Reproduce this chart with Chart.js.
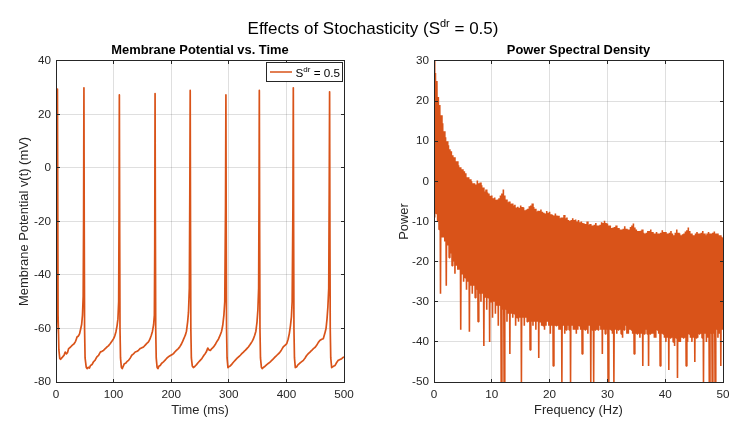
<!DOCTYPE html>
<html>
<head>
<meta charset="utf-8">
<title>Effects of Stochasticity</title>
<script src="https://cdn.jsdelivr.net/npm/chart.js@4.4.0/dist/chart.umd.min.js"></script>
<style>
  body { margin: 0; background: #fff; }
  #wrap { position: relative; width: 746px; height: 434px; overflow: hidden;
          font-family: "Liberation Sans", Arial, Helvetica, sans-serif; }
  #suptitle { position: absolute; left: 0; top: 20px; width: 746px; text-align: center;
              font-size: 17px; line-height: 17px; color: #000; white-space: nowrap; }
  #suptitle sup { font-size: 11px; position: relative; top: -7px; vertical-align: baseline; line-height: 0; }
  canvas { position: absolute; top: 0; }
</style>
</head>
<body>
<div id="wrap">
  <canvas id="voltChart" width="373" height="434" style="left:0;width:373px;height:434px"></canvas>
  <canvas id="psdChart" width="373" height="434" style="left:373px;width:373px;height:434px"></canvas>
  <div id="suptitle">Effects of Stochasticity (S<sup>dr</sup> = 0.5)</div>
</div>
<script>
// ---- data ----

// membrane potential trace, one line per spike cycle
const timeMs = [
  0, 1.2, 2, 2.5, 3.0, 3.6, 5, 6.5, 8, 10, 12, 14, 16, 18, 20, 22, 25, 28, 31, 34, 36.5, 39, 41, 43, 44.5, 46, 47.2, 47.9,
  48.5, 49.0, 49.6, 50.5, 52.5, 54, 56, 58, 60, 62.5, 65, 68, 71, 74, 77, 80, 82.5, 85.5, 88.5, 91, 94, 97, 100, 102, 104, 106, 107.5, 108.8, 109.4,
  110, 110.5, 111.1, 112, 113.5, 115, 117, 118.5, 121, 123.5, 126, 129, 131.5, 134.5, 137.5, 140, 143, 146, 149, 152, 155, 158, 160.5, 163, 165.5, 167.5, 169.5, 170.8, 171.4,
  172, 172.5, 173.1, 174, 175.5, 177, 179, 181, 183.5, 186.5, 189.5, 192, 195, 198, 201, 204, 207, 210, 212.5, 215, 218, 220.5, 222.5, 224.5, 226.5, 228.5, 230, 231.5, 232.3,
  233, 233.5, 234.1, 235, 236.6, 238.5, 241, 244, 247, 250, 253, 256, 259, 261.5, 263.5, 265.5, 268, 270.5, 273.5, 276.5, 279, 282, 285, 287.5, 289.5, 291.5, 293, 294.3,
  295, 295.5, 296.1, 297, 298.5, 300.5, 302.5, 305, 308, 311, 314, 317, 320, 322.5, 325.5, 328.5, 331, 334, 337, 340, 342.5, 345, 347, 349, 350.5, 351.8, 352.5,
  353, 353.5, 354.1, 355, 356.6, 358, 360.5, 363, 366, 369, 372, 375, 378, 380.5, 383.5, 386.5, 389, 391.5, 394.5, 397.5, 400.5, 403, 405, 407, 408.7, 410, 411.3,
  412, 412.5, 413.1, 414, 415.5, 417.5, 420, 423, 426, 429.5, 432.5, 435.5, 438, 441, 444, 447, 450, 452.5, 455.5, 458.5, 461.5, 464, 466.5, 468.8, 470.5, 472, 473.5, 474.3,
  475, 475.5, 476.1, 477, 478.6, 480.5, 482.5, 484.5, 487, 490, 493, 496, 498, 500
];
const membraneMv = [
  -64.5, -55, -10, 29.5, -10, -55, -68, -71.2, -71.5, -71, -70.5, -70, -68.8, -69.5, -69, -67.5, -67, -66.3, -65.8, -64.8, -63.2, -62.8, -61.9, -60, -58.5, -55, -48, -20,
  30, -20, -60, -71, -74.5, -75, -74.5, -74.8, -73.8, -73.5, -72.5, -71.8, -70.6, -70, -68.8, -68.5, -68.2, -67.5, -66.9, -66.5, -65.7, -64.8, -63.8, -62.8, -61.3, -59, -56.5, -50, -20,
  27.3, -20, -60, -71, -74.5, -75, -74, -73.2, -73, -72.3, -71.9, -71, -70, -69.5, -68.8, -68.6, -68.2, -67.5, -67.2, -66.9, -66.2, -65.5, -65, -64, -62.5, -61, -58.5, -55, -30,
  27.8, -20, -60, -71, -74.5, -75, -74, -73.8, -73, -72.5, -71.8, -71.2, -70.6, -70.2, -69.8, -69.4, -68.6, -68, -67.5, -66.8, -65.7, -64.5, -63.5, -62.5, -61, -57.6, -54, -45, -10,
  29, -20, -60, -71, -74, -74.6, -74.2, -73.5, -72.7, -72, -71.3, -70.3, -69.4, -68.5, -67.3, -68, -68.2, -67.5, -66.9, -66, -65, -64, -62.5, -61, -58.8, -55, -50, -15,
  27.3, -20, -60, -71, -74.6, -74.2, -74, -73.4, -72.6, -71.9, -71.2, -70.6, -70, -69.4, -68.8, -68.2, -67.6, -66.9, -66, -65, -64, -62.5, -61, -57.5, -53, -45, -10,
  29, -20, -60, -71, -74.5, -75, -74.5, -74.1, -73.5, -73, -72.5, -71.8, -71.2, -70.6, -70, -69.4, -68.8, -68, -66.9, -66.3, -65.7, -64, -62, -59, -55.7, -50, -15,
  30, -20, -60, -71, -74.6, -74.4, -73.6, -73, -72.5, -71.9, -71, -70, -69.4, -68.8, -68.2, -67.5, -67, -66.3, -65.2, -64.4, -64, -63.8, -62, -60, -56.5, -52, -45, -10,
  28.5, -20, -60, -71, -74.6, -74.3, -74, -73.8, -72.8, -71.9, -71.6, -71.3, -70.9, -70.6
];

// PSD, read in 0.5 Hz blocks; each block holds four samples at +0, +0.125, +0.25, +0.375 Hz
const PSD_BLOCK_HZ = 0.5;
// main peak at the start of each block (0 .. 50 Hz)
const psdPeakPower = [
  30, 25, 19, 14.5, 11, 9, 7.5, 6, 5, 3.5,
  3, 2, 1, 0, -0.5, 0.2, -0.3, -1.5, -2, -3,
  -3.5, -4, -4.5, -3.5, -2, -4.5, -5, -5.5, -5.8, -6.3,
  -6, -6.5, -7, -6.2, -5.5, -6.8, -7.3, -7, -7.8, -7.4,
  -7.6, -8.4, -8, -8.6, -9, -8.4, -9, -9.8, -9.2, -9.5,
  -9.6, -10, -10.5, -10, -10.6, -11, -10.4, -11, -10.2, -9.8,
  -10.5, -11, -11.5, -11, -11.6, -12, -11.2, -12, -11.4, -10.5,
  -12, -12.4, -12, -13, -12.4, -12, -13, -12.6, -13, -12.2,
  -12.6, -13, -12.4, -13.4, -12, -13, -13.2, -12.5, -11.5, -13,
  -13.4, -12.6, -13, -12.4, -13.4, -12.6, -13, -12.5, -13, -13.4,
  -14
];
// deep dips (the teeth hanging below the band)
const psdDeepDipPower = [
  -9, -10, -28, -14, -26, -19, -21, -23, -22, -37,
  -25, -27, -37.5, -28, -29, -35, -30, -41, -32, -40,
  -34, -33, -36, -50, -50, -35, -43, -34, -36, -35,
  -50, -36, -35, -42, -36, -37, -44, -36, -37, -35,
  -38, -46, -36, -37, -50, -38, -36, -50, -37, -38,
  -36, -43, -37, -38, -50, -50, -37, -36, -43, -38,
  -50, -37, -50, -38, -37, -39, -36, -38, -37, -43,
  -38, -39, -46, -37, -46, -38, -39, -37, -46, -38,
  -40, -47, -39, -41, -49, -40, -39, -46, -38, -40,
  -45, -39, -38, -50, -40, -50, -50, -50, -39, -46
];
// secondary peaks in the middle of each block
const psdSecondPeakPower = [
  27, 21, 16.5, 12.5, 10, 8, 6.5, 5, 4, 3,
  2.5, 1, 0.5, -0.5, -0.8, -0.5, -1, -2.5, -2.8, -3.6,
  -4.2, -4.6, -4.2, -3, -3.5, -5.2, -5.6, -6, -6.5, -6.6,
  -6.4, -7.2, -6.8, -6, -6.4, -7.5, -7.4, -7.6, -8, -7.8,
  -8.2, -8.5, -8.5, -9.2, -9, -9.2, -9.6, -9.6, -9.6, -10,
  -10.2, -10.4, -10.6, -10.8, -11, -10.8, -11, -10.8, -10.4, -10.4,
  -11, -11.6, -11.4, -11.6, -12, -11.8, -11.8, -12, -11, -11.5,
  -12.4, -12.3, -12.8, -12.8, -12.4, -12.6, -13, -13, -12.8, -12.6,
  -13, -12.8, -13, -12.8, -12.8, -13.4, -13, -12.2, -12.4, -13.4,
  -13, -13, -12.8, -13, -13, -13, -12.8, -13, -13.4, -13.8
];
// shallow dips: the lower edge of the solid band
const psdShallowDipPower = [
  -8, -12, -14, -15, -16, -18, -20, -21, -22, -23,
  -24, -25, -26, -26, -27, -28, -28, -29, -29, -30,
  -30, -31, -31, -32, -32, -33, -33, -33, -34, -34,
  -34, -34, -35, -35, -35, -35, -35, -36, -36, -36,
  -36, -36, -36, -37, -36, -37, -37, -36, -37, -37,
  -37, -37, -37, -36, -37, -37, -37, -37, -37, -37,
  -37, -38, -37, -37, -38, -37, -38, -37, -38, -38,
  -38, -38, -38, -38, -38, -38, -39, -38, -38, -39,
  -39, -39, -40, -39, -40, -39, -39, -40, -39, -39,
  -39, -38, -39, -38, -39, -38, -38, -37, -38, -37
];

// axis ticks
const timeTicks = [0, 100, 200, 300, 400, 500];
const voltTicks = [-80, -60, -40, -20, 0, 20, 40];
const freqTicks = [0, 10, 20, 30, 40, 50];
const powerTicks = [-50, -40, -30, -20, -10, 0, 10, 20, 30];

// texts
const voltTitle = 'Membrane Potential vs. Time';
const psdTitle = 'Power Spectral Density';
const legendLabel = ['S', 'dr', ' = 0.5'];

// ---- styling ----
const FONT = '"Liberation Sans", Arial, Helvetica, sans-serif';
const LINE_COLOR = '#D95319';
const AXIS_COLOR = '#262626';
const GRID_COLOR = 'rgba(38,38,38,0.15)';
const TICK_SIZE = 11.7;
const LABEL_SIZE = 12.9;

Chart.defaults.font.family = FONT;
Chart.defaults.color = AXIS_COLOR;
Chart.defaults.animation = false;

function fixedTicks(values) {
  return function(scale) {
    scale.ticks = values.map(v => ({ value: v }));
  };
}

function half(p) {
  return Math.round(p - 0.5) + 0.5;
}

// box round the axes plus inward tick marks on all four sides
const axesFrame = {
  id: 'axesFrame',
  afterDatasetsDraw(chart) {
    const { ctx, chartArea: a, scales } = chart;
    const L = half(a.left), R = half(a.right), T = half(a.top), B = half(a.bottom);
    const len = 3.5;
    ctx.save();
    ctx.strokeStyle = AXIS_COLOR;
    ctx.lineWidth = 1;
    ctx.beginPath();
    scales.x.ticks.forEach(t => {
      const px = half(scales.x.getPixelForValue(t.value));
      ctx.moveTo(px, B); ctx.lineTo(px, B - len);
      ctx.moveTo(px, T); ctx.lineTo(px, T + len);
    });
    scales.y.ticks.forEach(t => {
      const py = half(scales.y.getPixelForValue(t.value));
      ctx.moveTo(L, py); ctx.lineTo(L + len, py);
      ctx.moveTo(R, py); ctx.lineTo(R - len, py);
    });
    ctx.stroke();
    ctx.strokeRect(L, T, R - L, B - T);
    ctx.restore();
  }
};

// legend with a superscript, like the MATLAB one
const supLegend = {
  id: 'supLegend',
  afterDraw(chart) {
    if (!chart.options.plugins.supLegend || !chart.options.plugins.supLegend.show) return;
    const { ctx, chartArea: a } = chart;
    const mainFont = TICK_SIZE + 'px ' + FONT;
    const supFont = '8px ' + FONT;
    ctx.save();
    ctx.font = mainFont;
    const wS = ctx.measureText(legendLabel[0]).width;
    const wRest = ctx.measureText(legendLabel[2]).width;
    ctx.font = supFont;
    const wSup = ctx.measureText(legendLabel[1]).width;
    const textX0 = 29.5;
    const boxW = Math.round(textX0 + wS + wSup + wRest + 3);
    const boxH = 20;
    const right = Math.round(a.right) - 1;
    const left = right - boxW;
    const top = Math.round(a.top) + 1;
    ctx.fillStyle = '#fff';
    ctx.fillRect(left, top, boxW, boxH);
    ctx.strokeStyle = AXIS_COLOR;
    ctx.lineWidth = 1;
    ctx.strokeRect(left + 0.5, top + 0.5, boxW - 1, boxH - 1);
    const midY = top + boxH / 2;
    ctx.strokeStyle = LINE_COLOR;
    ctx.lineWidth = 1.5;
    ctx.beginPath();
    ctx.moveTo(left + 4, midY);
    ctx.lineTo(left + 26, midY);
    ctx.stroke();
    ctx.fillStyle = '#000';
    ctx.textBaseline = 'alphabetic';
    ctx.textAlign = 'left';
    const base = midY + 5.2;
    let x = left + textX0;
    ctx.font = mainFont;
    ctx.fillText(legendLabel[0], x, base);
    x += wS;
    ctx.font = supFont;
    ctx.fillText(legendLabel[1], x, base - 5);
    x += wSup;
    ctx.font = mainFont;
    ctx.fillText(legendLabel[2], x, base);
    ctx.restore();
  }
};

function buildOptions(cfg) {
  return {
    responsive: false,
    maintainAspectRatio: false,
    animation: false,
    layout: { padding: { left: 0, right: cfg.padRight, top: 0, bottom: 0 } },
    plugins: {
      legend: { display: false },
      tooltip: { enabled: false },
      supLegend: { show: cfg.legend },
      title: {
        display: true,
        text: cfg.title,
        fullSize: false,
        color: '#000',
        font: { size: LABEL_SIZE, weight: 'bold' },
        padding: { top: 43, bottom: 2.5 }
      }
    },
    scales: {
      x: {
        type: 'linear',
        min: cfg.xTicks[0],
        max: cfg.xTicks[cfg.xTicks.length - 1],
        afterBuildTicks: fixedTicks(cfg.xTicks),
        afterFit: s => { s.height = 52; },
        grid: { color: GRID_COLOR, drawTicks: false, lineWidth: 1 },
        border: { display: false },
        ticks: { font: { size: TICK_SIZE }, padding: 6, maxRotation: 0, autoSkip: false, color: AXIS_COLOR },
        title: { display: true, text: cfg.xTitle, color: AXIS_COLOR, font: { size: LABEL_SIZE },
                 padding: { top: 0, bottom: 15.8 } }
      },
      y: {
        type: 'linear',
        min: cfg.yTicks[0],
        max: cfg.yTicks[cfg.yTicks.length - 1],
        afterBuildTicks: fixedTicks(cfg.yTicks),
        afterFit: s => { s.width = cfg.yWidth; },
        grid: { color: GRID_COLOR, drawTicks: false, lineWidth: 1 },
        border: { display: false },
        ticks: { font: { size: TICK_SIZE }, padding: 5, autoSkip: false, color: AXIS_COLOR },
        title: { display: true, text: cfg.yTitle, color: AXIS_COLOR, font: { size: LABEL_SIZE },
                 padding: { top: cfg.yTitlePad, bottom: 0 } }
      }
    }
  };
}

// left: membrane potential
// (tiny tension only to keep Chart.js off its pixel-collapsing fast path, so the spikes stay one clean stroke)
const voltPoints = timeMs.map((t, i) => ({ x: t, y: membraneMv[i] }));
new Chart(document.getElementById('voltChart'), {
  type: 'line',
  data: {
    datasets: [{
      data: voltPoints,
      borderColor: LINE_COLOR,
      borderWidth: 1.7,
      borderJoinStyle: 'round',
      pointRadius: 0,
      tension: 0.001,
      fill: false
    }]
  },
  options: buildOptions({
    title: voltTitle, legend: true,
    xTicks: timeTicks, yTicks: voltTicks,
    xTitle: 'Time (ms)', yTitle: 'Membrane Potential v(t) (mV)',
    yWidth: 56, yTitlePad: 17, padRight: 29
  }),
  plugins: [axesFrame, supLegend]
});

// right: power spectral density, the four sample lists woven back into frequency order
const psdPoints = [];
psdPeakPower.forEach((p, k) => {
  const f0 = k * PSD_BLOCK_HZ;
  psdPoints.push({ x: f0, y: p });
  if (k < psdDeepDipPower.length) {
    psdPoints.push({ x: f0 + PSD_BLOCK_HZ * 0.25, y: psdDeepDipPower[k] });
    psdPoints.push({ x: f0 + PSD_BLOCK_HZ * 0.5, y: psdSecondPeakPower[k] });
    psdPoints.push({ x: f0 + PSD_BLOCK_HZ * 0.75, y: psdShallowDipPower[k] });
  }
});
new Chart(document.getElementById('psdChart'), {
  type: 'line',
  data: {
    datasets: [{
      data: psdPoints,
      borderColor: LINE_COLOR,
      borderWidth: 1.6,
      borderJoinStyle: 'bevel',
      pointRadius: 0,
      tension: 0,
      fill: false
    }]
  },
  options: buildOptions({
    title: psdTitle, legend: false,
    xTicks: freqTicks, yTicks: powerTicks,
    xTitle: 'Frequency (Hz)', yTitle: 'Power',
    yWidth: 61, yTitlePad: 23.3, padRight: 23
  }),
  plugins: [axesFrame, supLegend]
});
</script>
</body>
</html>
